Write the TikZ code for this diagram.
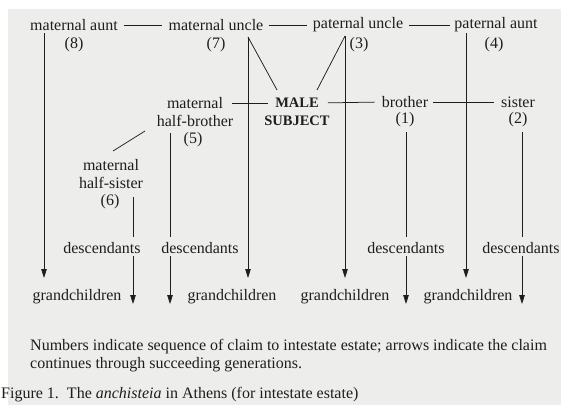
\documentclass[tikz,border=0pt]{standalone}
\usepackage{fontspec}
\setmainfont{Liberation Serif}
\usetikzlibrary{arrows.meta}
\definecolor{bgc}{RGB}{237,237,235}
\definecolor{ink}{RGB}{30,30,30}
\begin{document}
\begin{tikzpicture}[x=1pt,y=-1pt,
  txt/.style={font=\fontsize{16}{18}\selectfont, text=ink, inner sep=0pt},
  bold/.style={font=\fontsize{14.5}{18}\selectfont\bfseries, text=ink, inner sep=0pt},
  conn/.style={draw=ink, line width=0.75pt},
  arr/.style={draw=ink, line width=0.75pt, -{Triangle[length=9pt,width=5.5pt]}}]
\fill[bgc] (0,0) rectangle (561,405);
\fill[white] (0,0) rectangle (561,9);
\fill[white] (0,0) rectangle (8,405);
\useasboundingbox (0,0) rectangle (561,405);

% top row
\node[txt] (maunt) at (74,25) {maternal aunt};
\node[txt] (muncle) at (216,25) {maternal uncle};
\node[txt] (puncle) at (358,25) {paternal uncle};
\node[txt] (paunt) at (496,25) {paternal aunt};
\node[txt] (n8) at (74,45) {(8)};
\node[txt] (n7) at (216,45) {(7)};
\node[txt] (n3) at (359,45) {(3)};
\node[txt] (n4) at (494,45) {(4)};
\draw[conn, shorten <=6pt, shorten >=6pt] (maunt.east) -- (muncle.west);
\draw[conn, shorten <=5pt, shorten >=6pt] (muncle.east) -- (puncle.west);
\draw[conn, shorten <=6pt, shorten >=4pt] (puncle.east) -- (paunt.west);

% second row
\node[txt] (mhbA) at (195,103) {maternal};
\node[txt] (mhbB) at (195,121) {half-brother};
\node[txt] (n5) at (193,140) {(5)};
\node[bold] (male) at (297,103) {MALE};
\node[bold] (subj) at (297,121) {SUBJECT};
\node[txt] (bro) at (405,102) {brother};
\node[txt] (n1) at (405,120) {(1)};
\node[txt] (sis) at (518,102) {sister};
\node[txt] (n2) at (518,120) {(2)};
\draw[conn, shorten <=9pt, shorten >=7pt] (mhbA.east) -- (male.west);
\draw[conn, shorten <=9pt, shorten >=7pt] (male.east) -- (bro.west);
\draw[conn, shorten <=5pt, shorten >=7pt] (bro.east) -- (sis.west);

% half-sister
\node[txt] (mhsA) at (111,165) {maternal};
\node[txt] (mhsB) at (111,183) {half-sister};
\node[txt] (n6) at (110,202) {(6)};

% descendants and grandchildren
\node[txt] (d1) at (102,248) {descendants};
\node[txt] (d2) at (200,248) {descendants};
\node[txt] (d3) at (406,248) {descendants};
\node[txt] (d4) at (521,248) {descendants};
\node[txt] (g1) at (77,297) {grandchildren};
\node[txt] (g2) at (232,297) {grandchildren};
\node[txt] (g3) at (345,297) {grandchildren};
\node[txt] (g4) at (468,297) {grandchildren};

% coordinates for line ends
\coordinate (aTop) at (44,33);   \coordinate (aEnd) at (44,278);
\coordinate (uTop) at (248,37);  \coordinate (uEnd) at (248,278);
\coordinate (pTop) at (345,36);  \coordinate (pEnd) at (345,278);
\coordinate (tTop) at (466,33);  \coordinate (tEnd) at (466,278);
\coordinate (mL) at (277,90);    \coordinate (mR) at (317,90);
\coordinate (hbS) at (145,131);  \coordinate (hsN) at (113,151);
\coordinate (v5a) at (170,133);  \coordinate (v5b) at (170,237);
\coordinate (v5c) at (170,256);  \coordinate (v5d) at (170,304);
\coordinate (v6a) at (133,197);  \coordinate (v6b) at (133,237);
\coordinate (v6c) at (133,256);  \coordinate (v6d) at (133,304);
\coordinate (v1a) at (406,132);  \coordinate (v1b) at (406,237);
\coordinate (v1c) at (406,256);  \coordinate (v1d) at (406,304);
\coordinate (v2a) at (522,132);  \coordinate (v2b) at (522,237);
\coordinate (v2c) at (522,256);  \coordinate (v2d) at (522,304);

\draw[arr] (aTop) -- (aEnd);
\draw[arr] (uTop) -- (uEnd);
\draw[arr] (pTop) -- (pEnd);
\draw[arr] (tTop) -- (tEnd);
\draw[conn] (uTop) -- (mL);
\draw[conn] (pTop) -- (mR);
\draw[conn] (hbS) -- (hsN);
\draw[conn] (v5a) -- (v5b);
\draw[arr] (v5c) -- (v5d);
\draw[conn] (v6a) -- (v6b);
\draw[arr] (v6c) -- (v6d);
\draw[conn] (v1a) -- (v1b);
\draw[arr] (v1c) -- (v1d);
\draw[conn] (v2a) -- (v2b);
\draw[arr] (v2c) -- (v2d);

% caption
\node[txt, anchor=west] (cap1) at (30,347) {Numbers indicate sequence of claim to intestate estate; arrows indicate the claim};
\node[txt, anchor=west] (cap2) at (30,365) {continues through succeeding generations.};
\node[txt, anchor=west] (fig) at (1,395) {Figure 1.\ \ The \textit{anchisteia} in Athens (for intestate estate)};
\end{tikzpicture}
\end{document}
